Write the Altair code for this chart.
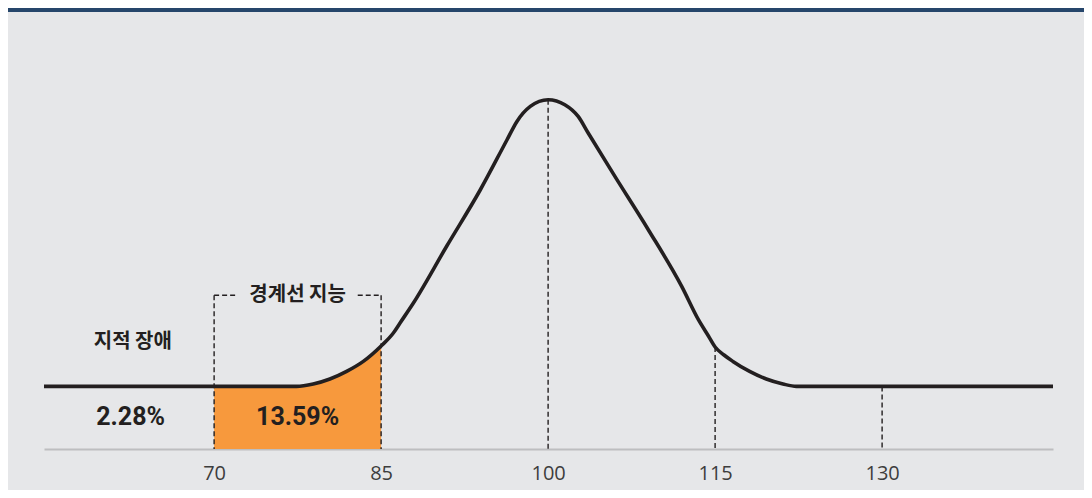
import altair as alt
import pandas as pd

# ---- data ----
iq = [54.72, 65, 70, 77.4, 78.9, 80.4, 81.9, 83.4, 85, 86.1, 86.7, 87.9, 90.9, 93.9,
      96.3, 97.2, 98.4, 100, 101.5, 102.7, 103.6, 106.0, 109.0, 112.0, 113.5, 114.4,
      115, 115.8, 116.6, 118.1, 119.6, 121.1, 122.3, 135, 145.35]
height = [62.6, 62.6, 62.6, 62.6, 65, 70, 77.6, 87.6, 103, 116, 126, 146, 203, 259,
          309, 327.6, 342.6, 349.3, 344.3, 332.6, 316, 272.6, 219.3, 162.6, 129.3, 113,
          102, 94, 87.6, 77.6, 70, 65, 62.6, 62.6, 62.6]

fill_range = [70, 85]
guide_iq = [70, 85, 100, 115, 130]
guide_top = [153.8, 153.8, 349.3, 102, 62.6]
bracket_x = [70, 82.9]
bracket_x2 = [72.0, 85]
bracket_y = [153.8, 153.8]
tick_values = [70, 85, 100, 115, 130]
cat_labels = ["지적 장애", "경계선 지능"]
cat_x = [62.7, 77.5]
cat_y = [107, 153.8]
pct_labels = ["2.28%", "13.59%"]
pct_x = [62.5, 77.5]
pct_y = [32, 32]

curve = pd.DataFrame({"iq": iq, "h": height})
guides = pd.DataFrame({"iq": guide_iq, "top": guide_top})
brackets = pd.DataFrame({"x": bracket_x, "x2": bracket_x2, "y": bracket_y})
cats = pd.DataFrame({"label": cat_labels, "x": cat_x, "y": cat_y})
pcts = pd.DataFrame({"label": pct_labels, "x": pct_x, "y": pct_y})

INK = "#231f20"
xs = alt.Scale(domain=[54.72, 145.35], nice=False, zero=False)
ys = alt.Scale(domain=[0, 441], nice=False, zero=False)
xaxis = alt.Axis(values=tick_values, title=None, grid=False, ticks=False, tickSize=0,
                 domainColor="#bdbec0", domainWidth=2.2,
                 labelFont="Open Sans", labelFontSize=20, labelColor="#3d3d3d",
                 labelBaseline="alphabetic", labelPadding=30, labelFontWeight="normal")

top_bar = alt.Chart(pd.DataFrame({"a": [0]})).mark_rect(color="#26466b").encode(
    x=alt.value(-36), x2=alt.value(1040), y=alt.value(0), y2=alt.value(4))

area = alt.Chart(curve).transform_filter(
    (alt.datum.iq >= fill_range[0]) & (alt.datum.iq <= fill_range[1])
).mark_area(color="#f7993d", interpolate="monotone", opacity=1).encode(
    x=alt.X("iq:Q", scale=xs, axis=xaxis),
    y=alt.Y("h:Q", scale=ys, axis=None),
    y2=alt.datum(0),
)

vrules = alt.Chart(guides).mark_rule(color=INK, strokeWidth=1.4, strokeDash=[5, 3]).encode(
    x=alt.X("iq:Q", scale=xs),
    y=alt.Y("top:Q", scale=ys),
    y2=alt.datum(0),
)

hrules = alt.Chart(brackets).mark_rule(color=INK, strokeWidth=1.4, strokeDash=[5, 3]).encode(
    x=alt.X("x:Q", scale=xs),
    x2="x2:Q",
    y=alt.Y("y:Q", scale=ys),
)

line = alt.Chart(curve).mark_line(color=INK, strokeWidth=3.6, interpolate="monotone").encode(
    x=alt.X("iq:Q", scale=xs),
    y=alt.Y("h:Q", scale=ys),
)

cat_text = alt.Chart(cats).mark_text(
    font="Noto Sans CJK KR", fontSize=20, fontWeight="bold", color=INK,
    baseline="middle", align="center",
).encode(x=alt.X("x:Q", scale=xs), y=alt.Y("y:Q", scale=ys), text="label:N")

pct_text = alt.Chart(pcts).mark_text(
    font="Roboto", fontSize=25, fontWeight="bold", color=INK,
    baseline="middle", align="center",
).encode(x=alt.X("x:Q", scale=xs), y=alt.Y("y:Q", scale=ys), text="label:N")

chart = alt.layer(top_bar, area, vrules, hrules, line, cat_text, pct_text).properties(
    width=1009, height=441,
    padding={"left": 36, "right": 31, "top": 0, "bottom": 41},
    autosize=alt.AutoSizeParams(type="none"),
    background="#e6e7e9",
).configure_view(stroke=None)

chart.save("out.html", embed_options={"renderer": "svg", "actions": False})
